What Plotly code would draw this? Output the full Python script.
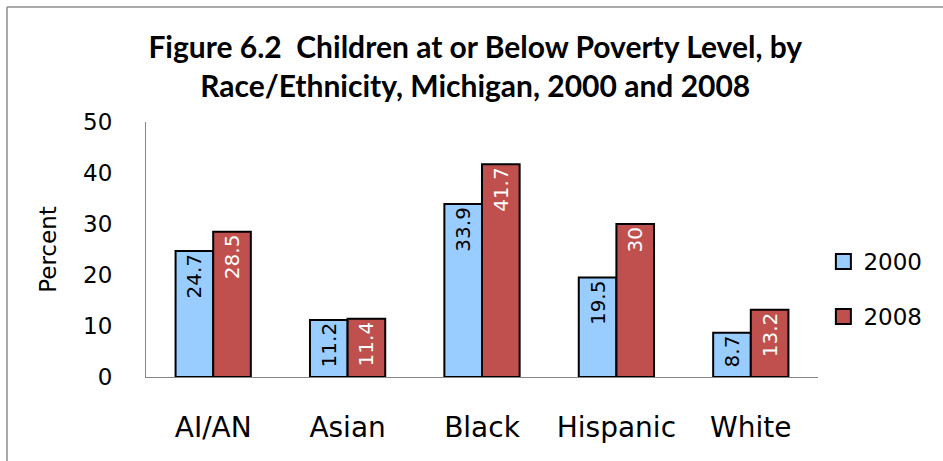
import plotly.graph_objects as go

categories = ["AI/AN", "Asian", "Black", "Hispanic", "White"]
series_names = ["2000", "2008"]
values_2000 = [24.7, 11.2, 33.9, 19.5, 8.7]
values_2008 = [28.5, 11.4, 41.7, 30, 13.2]
y_ticks = [0, 10, 20, 30, 40, 50]

title_text = "Figure 6.2  Children at or Below Poverty Level, by<br>Race/Ethnicity, Michigan, 2000 and 2008"

colors = ["#99CCFF", "#C0504D"]
label_colors = ["black", "white"]

fig = go.Figure()
for name, vals, col, lcol in zip(series_names, [values_2000, values_2008], colors, label_colors):
    fig.add_trace(go.Bar(
        x=categories, y=vals, name=name, showlegend=False,
        marker=dict(color=col, line=dict(color="black", width=2)),
        text=[str(v) for v in vals], textposition="inside",
        insidetextanchor="end", textangle=-90,
        insidetextfont=dict(family="DejaVu Sans", size=20, color=lcol),
        cliponaxis=False,
    ))
# legend entries (square swatches)
for name, col in zip(series_names, colors):
    fig.add_trace(go.Scatter(
        x=[None], y=[None], mode="markers", name=name, legendgroup=name,
        marker=dict(symbol="square", size=15, color=col, line=dict(color="black", width=2)),
    ))

fig.update_layout(
    width=943, height=461,
    paper_bgcolor="white", plot_bgcolor="white",
    margin=dict(l=146, r=125, t=122, b=84),
    barmode="group", bargap=0.44, bargroupgap=0,
    uniformtext=dict(minsize=8, mode="show"),
    title=dict(text=title_text, x=0.504, xref="container", xanchor="center",
               y=0.874, yref="container", yanchor="top",
               font=dict(family="Lato", size=30, color="black", weight="bold")),
    font=dict(family="DejaVu Sans", color="black"),
    legend=dict(x=1.008, xanchor="left", y=0.345, yanchor="middle",
                font=dict(family="DejaVu Sans", size=23, color="black"),
                tracegroupgap=22, bgcolor="rgba(0,0,0,0)"),
    showlegend=True,
)
fig.update_xaxes(showline=True, linecolor="#868686", linewidth=1,
                 ticks="", tickfont=dict(family="DejaVu Sans", size=28, color="black"),
                 ticklabelstandoff=25, showgrid=False)
fig.update_yaxes(range=[0, 50], tickvals=y_ticks, showline=True, linecolor="#868686",
                 linewidth=1, ticks="", showgrid=False, zeroline=False,
                 tickfont=dict(family="DejaVu Sans", size=23, color="black"),
                 ticklabelstandoff=28,
                 title=dict(text="Percent", standoff=20,
                            font=dict(family="DejaVu Sans", size=23, color="black")))

# outer chart frame (partially cropped in the reference)
fig.add_shape(type="line", xref="paper", yref="paper",
              x0=-139/672, x1=797/672, y0=(377-7)/255, y1=(377-7)/255,
              line=dict(color="#8c8c8c", width=1.5))
fig.add_shape(type="line", xref="paper", yref="paper",
              x0=-139/672, x1=-139/672, y0=(377-7)/255, y1=-84/255,
              line=dict(color="#8c8c8c", width=1.5))

fig.write_html("out.html", config={"displayModeBar": False},
               post_script="document.body.style.margin='0';")
